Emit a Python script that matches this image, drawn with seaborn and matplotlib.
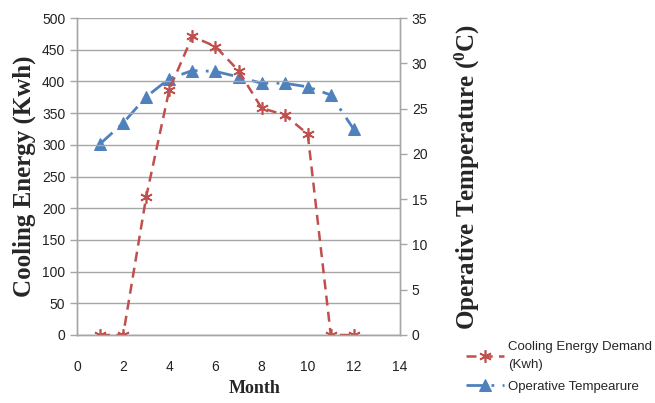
import matplotlib
matplotlib.use("Agg")
import matplotlib.pyplot as plt
import seaborn as sns
import pandas as pd

months = [1, 2, 3, 4, 5, 6, 7, 8, 9, 10, 11, 12]
cooling_kwh = [0, 0, 218, 387, 471, 455, 417, 358, 347, 317, 0, 0]
operative_temp = [21.1, 23.4, 26.3, 28.3, 29.2, 29.1, 28.5, 27.8, 27.8, 27.4, 26.5, 22.7]
x_ticks = [0, 2, 4, 6, 8, 10, 12, 14]
left_ticks = [0, 50, 100, 150, 200, 250, 300, 350, 400, 450, 500]
right_ticks = [0, 5, 10, 15, 20, 25, 30, 35]

sns.set_theme(style="white")
tick_family = ["Liberation Sans", "DejaVu Sans"]
label_family = ["Liberation Serif", "DejaVu Serif"]
plt.rcParams["font.family"] = tick_family

df = pd.DataFrame({"Month": months, "Cooling": cooling_kwh, "Temp": operative_temp})

fig = plt.figure(figsize=(6.55, 4.03), dpi=100)
ax = fig.add_axes([77 / 655, 1 - 335 / 403, 323 / 655, 317 / 403])
ax2 = ax.twinx()

red = "#C0504D"
blue = "#4F81BD"

sns.lineplot(data=df, x="Month", y="Temp", ax=ax2, color=blue, linestyle=(0, (6, 3, 1, 3)),
             linewidth=2.0, marker="^", markersize=8, markeredgecolor=blue,
             markerfacecolor=blue, label="Operative Tempearure")
sns.lineplot(data=df, x="Month", y="Cooling", ax=ax, color=red, linestyle=(0, (4, 2.5)),
             linewidth=1.8, marker=(6, 2, 0), markersize=9, markeredgecolor=red,
             markeredgewidth=1.2, label="Cooling Energy Demand\n(Kwh)")

ax.set_zorder(ax2.get_zorder() + 1)
ax.patch.set_visible(False)

ax.set_xlim(0, 14)
ax.set_ylim(0, 500)
ax2.set_ylim(0, 35)
ax.set_xticks(x_ticks)
ax.set_yticks(left_ticks)
ax2.set_yticks(right_ticks)

ax.yaxis.grid(True, color="#a6a6a6", linewidth=1.0)
ax.xaxis.grid(False)
ax2.grid(False)

for a in (ax, ax2):
    for s in a.spines.values():
        s.set_color("#a6a6a6")
        s.set_linewidth(1.0)
    a.spines["top"].set_visible(False)
    a.tick_params(axis="both", which="both", length=4, width=1, color="#a6a6a6",
                  labelsize=10, labelcolor="#222222")
ax.tick_params(axis="x", pad=16, direction="inout")
ax.tick_params(axis="y", direction="out", length=5)
ax2.tick_params(axis="y", direction="out", length=5)

ax.set_xlabel("Month", family=label_family, fontweight="bold", fontsize=13)
ax.xaxis.set_label_coords(0.55, -0.143, transform=ax.transAxes)
ax.xaxis.label.set_verticalalignment("top")
ax.set_ylabel("Cooling Energy (Kwh)", family=label_family, fontweight="bold",
              fontsize=18, labelpad=4)
ax2.set_ylabel("Operative Temperature ($\\mathregular{^{0}}$C)", family=label_family,
               fontweight="bold", fontsize=18, labelpad=18)

h1, l1 = ax.get_legend_handles_labels()
h2, l2 = ax2.get_legend_handles_labels()
for a in (ax, ax2):
    if a.get_legend() is not None:
        a.get_legend().remove()
leg = fig.legend(h1 + h2, l1 + l2, loc="upper left",
                 bbox_to_anchor=(466 / 655, 1 - 341 / 403),
                 frameon=False, fontsize=9.5, handlelength=2.9, handletextpad=0.3,
                 labelspacing=0.7, borderaxespad=0, borderpad=0)
for t in leg.get_texts():
    t.set_linespacing(1.7)

fig.savefig("out.png", dpi=100)
